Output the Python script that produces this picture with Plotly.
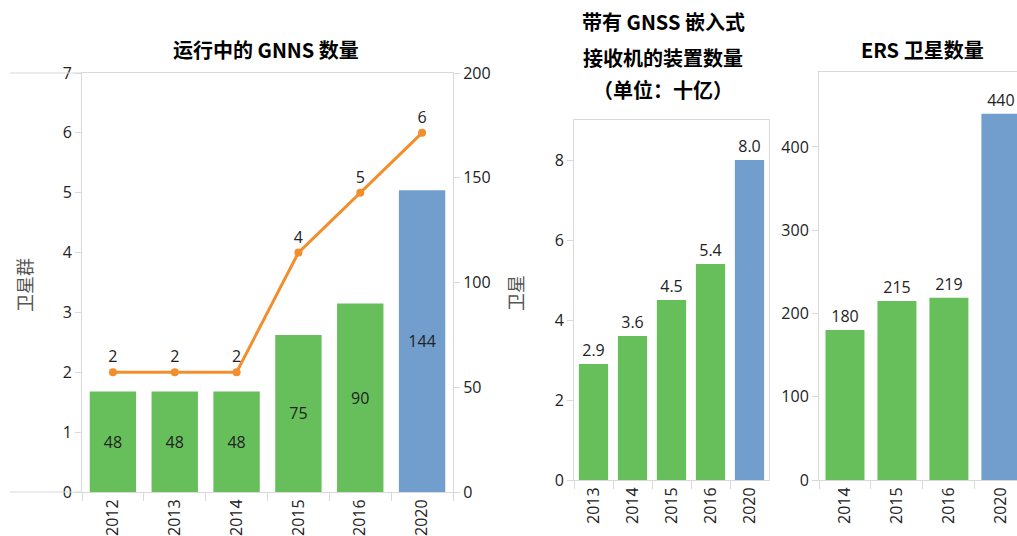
import plotly.graph_objects as go

W, H = 1017, 536

# panel 1: GNSS constellations and satellites in operation
gnss_years = ["2012", "2013", "2014", "2015", "2016", "2020"]
constellations = [2, 2, 2, 4, 5, 6]
satellites = [48, 48, 48, 75, 90, 144]

# panel 2: devices with embedded GNSS receivers (billions)
device_years = ["2013", "2014", "2015", "2016", "2020"]
devices = [2.9, 3.6, 4.5, 5.4, 8.0]

# panel 3: ERS satellites
ers_years = ["2014", "2015", "2016", "2020"]
ers_sats = [180, 215, 219, 440]

GREEN = "#67bf5c"
BLUE = "#729ece"
ORANGE = "#f28e2b"
GRID = "#d9d9d9"
TXT = "#222222"
FONT = "Open Sans, Noto Sans CJK SC, sans-serif"
CJK = "Noto Sans CJK SC"


def px_x(x):
    return x / W


def px_y(y):
    return 1 - y / H


def bar_colors(years):
    return [BLUE if y == "2020" else GREEN for y in years]


fig = go.Figure()

fig.add_trace(go.Bar(
    x=gnss_years, y=satellites, xaxis="x", yaxis="y",
    marker=dict(color=bar_colors(gnss_years), line=dict(width=0)),
    text=satellites, textposition="inside", insidetextanchor="middle",
    textfont=dict(size=16, color=TXT), textangle=0,
))
fig.add_trace(go.Scatter(
    x=gnss_years, y=constellations, xaxis="x", yaxis="y2",
    mode="lines+markers+text", line=dict(color=ORANGE, width=3),
    marker=dict(color=ORANGE, size=8),
    text=constellations, textposition="top center",
    textfont=dict(size=16, color=TXT),
))
fig.add_trace(go.Bar(
    x=device_years, y=devices, xaxis="x2", yaxis="y3",
    marker=dict(color=bar_colors(device_years), line=dict(width=0)),
    texttemplate="%{y:.1f}", textposition="outside",
    textfont=dict(size=16, color=TXT), textangle=0,
))
fig.add_trace(go.Bar(
    x=ers_years, y=ers_sats, xaxis="x3", yaxis="y4",
    marker=dict(color=bar_colors(ers_years), line=dict(width=0)),
    text=ers_sats, textposition="outside",
    textfont=dict(size=16, color=TXT), textangle=0,
))

xcommon = dict(type="category", showline=True, linecolor=GRID, mirror=True,
               ticks="outside", tickson="boundaries", ticklen=8, tickcolor=GRID,
               tickangle=-90, tickfont=dict(size=16, color=TXT), showgrid=False,
               automargin=False)
ycommon = dict(showline=True, linecolor=GRID, ticks="outside", ticklen=6,
               tickcolor=GRID, tickfont=dict(size=16, color=TXT), showgrid=False,
               zeroline=False, automargin=False)

fig.update_layout(
    width=W, height=H, margin=dict(l=0, r=0, t=0, b=0, autoexpand=False),
    paper_bgcolor="white", plot_bgcolor="white", showlegend=False,
    font=dict(family=FONT, color=TXT), bargap=0.25,
    xaxis=dict(domain=[px_x(82), px_x(453)], anchor="y", **xcommon),
    yaxis=dict(domain=[px_y(492), px_y(73)], anchor="x", side="right",
               range=[0, 200], dtick=50, **ycommon),
    yaxis2=dict(overlaying="y", anchor="x", side="left", range=[0, 7], dtick=1,
                **ycommon),
    xaxis2=dict(domain=[px_x(574), px_x(769)], anchor="y3", **xcommon),
    yaxis3=dict(domain=[px_y(480), px_y(120)], anchor="x2", range=[0, 9], dtick=2,
                mirror=True, **ycommon),
    xaxis3=dict(domain=[px_x(819), 1], anchor="y4", range=[-0.5, 3.31], **xcommon),
    yaxis4=dict(domain=[px_y(480), px_y(72)], anchor="x3", range=[0, 490], dtick=100,
                **ycommon),
)

# border lines that run past the left axis of the first panel
for yy in (73, 492):
    fig.add_shape(type="line", xref="paper", yref="paper",
                  x0=px_x(10), x1=px_x(82), y0=px_y(yy), y1=px_y(yy),
                  line=dict(color=GRID, width=1))

title_font = dict(family=CJK, size=20, color="black", weight="bold")
titles = [
    ("运行中的 GNNS 数量", 266, 50),
    ("带有 GNSS 嵌入式", 663, 22),
    ("接收机的装置数量", 663, 57),
    ("（单位：十亿）", 663, 90),
    ("ERS 卫星数量", 922, 50),
]
for txt, x, y in titles:
    fig.add_annotation(text=txt, xref="paper", yref="paper", x=px_x(x), y=px_y(y),
                       xanchor="center", yanchor="middle", showarrow=False,
                       font=title_font)

axis_font = dict(family=CJK, size=18, color="#555555")
fig.add_annotation(text="卫星群", xref="paper", yref="paper", x=px_x(24), y=px_y(285),
                   xanchor="center", yanchor="middle",
                   textangle=-90, showarrow=False, font=axis_font)
fig.add_annotation(text="卫星", xref="paper", yref="paper", x=px_x(515), y=px_y(293),
                   xanchor="center", yanchor="middle",
                   textangle=-90, showarrow=False, font=axis_font)

# figure is sized to the window, so drop the default page margin and scrollbars
fig.write_html(
    "out.html",
    config={"displayModeBar": False},
    post_script="document.body.style.margin='0';"
                "document.documentElement.style.overflow='hidden';",
)
